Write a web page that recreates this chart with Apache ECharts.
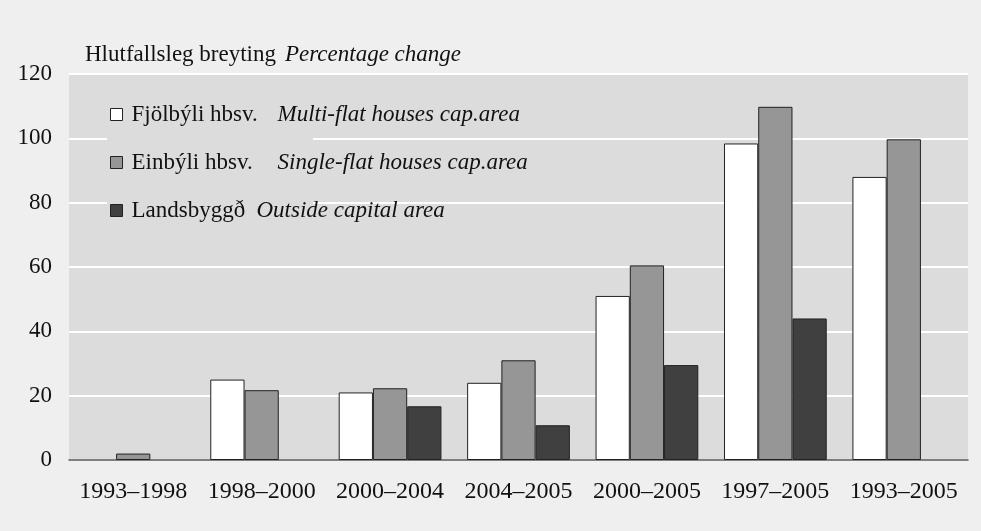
<!DOCTYPE html>
<html lang="is">

<head>
  <meta charset="UTF-8">
  <title>Hlutfallsleg breyting</title>
  <style>
    html, body { margin: 0; padding: 0; background: #efefef; }
    #chart { width: 981px; height: 531px; }
  </style>
</head>

<body>
<div id="chart"></div>
<script src="https://cdn.jsdelivr.net/npm/echarts@6/dist/echarts.min.js"></script>
<script>

// gögn / data
const categories = ['1993–1998', '1998–2000', '2000–2004', '2004–2005', '2000–2005', '1997–2005', '1993–2005'];
const seriesNames = ['Fjölbýli hbsv.', 'Einbýli hbsv.', 'Landsbyggð'];
const englishNames = ['Multi-flat houses cap.area', 'Single-flat houses cap.area', 'Outside capital area'];
const multiFlat = [null, 25, 21, 24, 51, 98.4, 88];
const singleFlat = [2, 21.7, 22.3, 31, 60.5, 109.8, 99.7];
const outside = [null, null, 16.7, 10.8, 29.5, 44, null];
const yTicks = [0, 20, 40, 60, 80, 100, 120];

const colors = ['#ffffff', '#969696', '#404040'];
const font = '"Liberation Serif", "Times New Roman", serif';

let myChart = echarts.init(document.getElementById('chart'));

function makeBar(name, data, color) {
  return {
    name: name,
    type: 'bar',
    data: data,
    barGap: 0,
    barCategoryGap: '20%',
    itemStyle: { color: color, borderColor: '#222', borderWidth: 1 }
  };
}

myChart.setOption({
  backgroundColor: '#efefef',
  animation: false,
  textStyle: { fontFamily: font },
  title: {
    left: 80,
    top: 38,
    text: '{a|Hlutfallsleg breyting}{b|Percentage change}',
    textStyle: {
      fontWeight: 'normal',
      rich: {
        a: { fontFamily: font, fontSize: 23, fontWeight: 'normal', color: '#111', padding: [0, 9, 0, 0] },
        b: { fontFamily: font, fontSize: 23, fontWeight: 'normal', color: '#111', fontStyle: 'italic' }
      }
    }
  },
  grid: {
    left: 69,
    right: 13,
    top: 74,
    bottom: 71,
    show: true,
    backgroundColor: '#dcdcdc',
    borderWidth: 0
  },
  // bakgrunnur skýringa nær yfir hluta af gridlínum
  graphic: [{
    type: 'rect',
    z: 1,
    shape: { x: 107, y: 95, width: 206, height: 135 },
    style: { fill: '#dcdcdc' }
  }],
  legend: {
    orient: 'vertical',
    left: 105,
    top: 98,
    icon: 'rect',
    itemWidth: 12,
    itemHeight: 12,
    itemGap: 25,
    data: seriesNames,
    itemStyle: { borderColor: '#222', borderWidth: 1 },
    formatter: function (name) {
      const i = seriesNames.indexOf(name);
      const key = i === 2 ? 'c' : 'a';
      return '{' + key + '|' + name + '}{b|' + englishNames[i] + '}';
    },
    textStyle: {
      rich: {
        a: { fontFamily: font, fontSize: 23, color: '#111', width: 146, lineHeight: 24, padding: [0, 0, 0, 4] },
        c: { fontFamily: font, fontSize: 23, color: '#111', width: 125, lineHeight: 24, padding: [0, 0, 0, 4] },
        b: { fontFamily: font, fontSize: 23, color: '#111', fontStyle: 'italic', lineHeight: 24 }
      }
    }
  },
  xAxis: {
    type: 'category',
    data: categories,
    axisTick: { show: false },
    axisLine: { lineStyle: { color: '#555', width: 1.5 } },
    axisLabel: { color: '#111', fontSize: 24, fontFamily: font, margin: 20, interval: 0 }
  },
  yAxis: {
    type: 'value',
    min: yTicks[0],
    max: yTicks[yTicks.length - 1],
    interval: yTicks[1] - yTicks[0],
    axisLine: { show: false },
    axisTick: { show: false },
    axisLabel: { color: '#111', fontSize: 23, fontFamily: font, margin: 17 },
    splitLine: { lineStyle: { color: '#ffffff', width: 2 } }
  },
  series: [
    makeBar(seriesNames[0], multiFlat, colors[0]),
    makeBar(seriesNames[1], singleFlat, colors[1]),
    makeBar(seriesNames[2], outside, colors[2])
  ]
});

window.addEventListener('resize', () => {
  myChart.resize();
});
</script>
</body>

</html>
